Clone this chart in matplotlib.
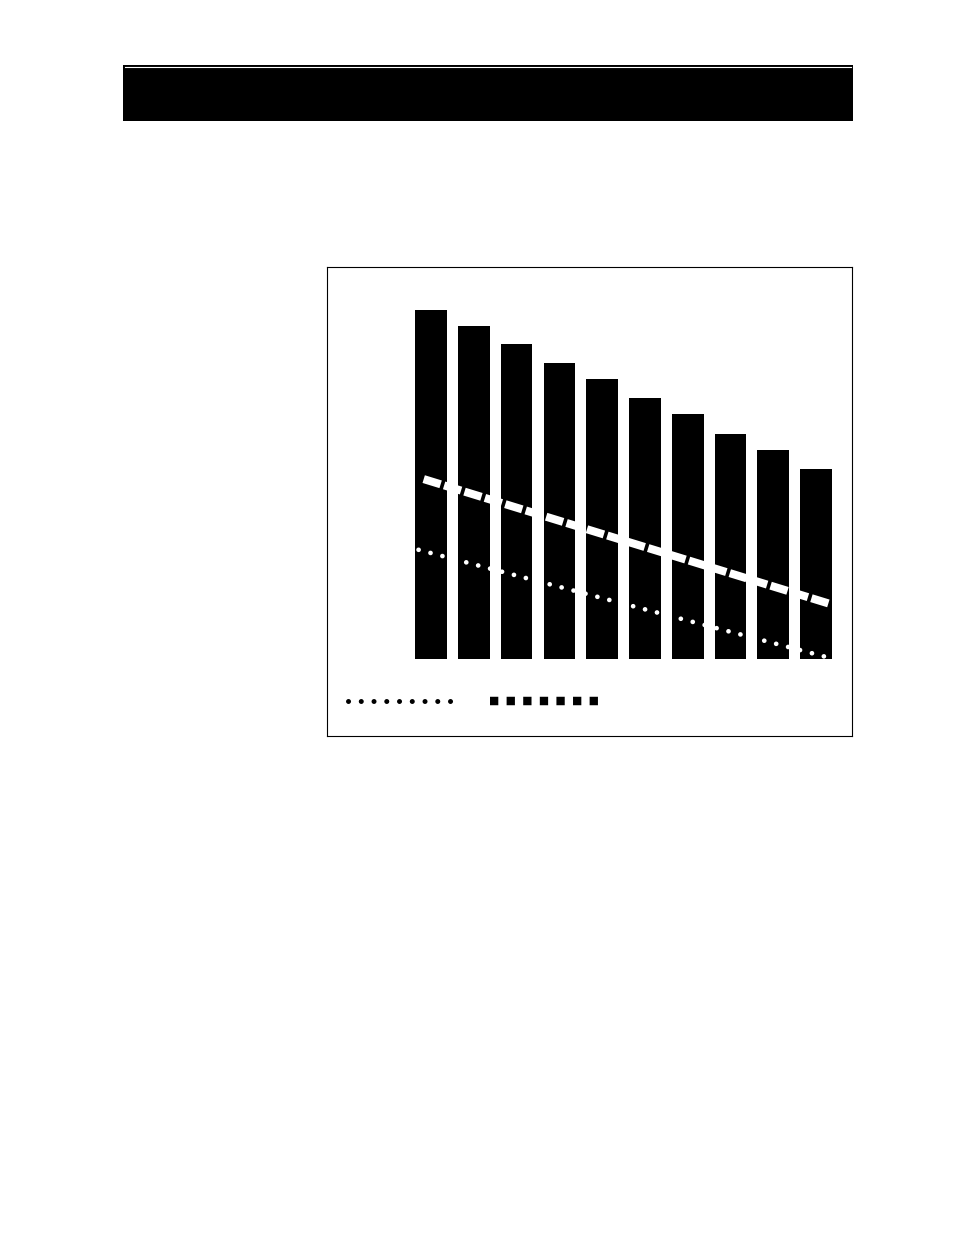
import numpy as np
import matplotlib
matplotlib.use("Agg")
from matplotlib import pyplot as plt
from matplotlib.lines import Line2D
from matplotlib.patches import Rectangle

#######################################
# chart values
#######################################

# ten categories, evenly spaced
categories = np.arange(10)

# bar heights
bar_values = [99.6, 95.1, 89.8, 84.4, 79.9, 74.4, 69.9, 64.2, 59.6, 54.2]

# dashed trend (start / end)
dash_x = [-0.17, 9.31]
dash_y = [51.3, 15.7]

# dotted trend (start / end)
dot_x = [-0.29, 9.23]
dot_y = [31.1, 0.5]

#######################################
# figure
#######################################

W, H = 954, 1235
fig = plt.figure(figsize=(W / 100, H / 100), dpi=100)
fig.patch.set_facecolor("white")

# header bar on top of the page
fig.patches.append(Rectangle((123 / W, 1 - 121 / H), 730 / W, 56 / H,
                             transform=fig.transFigure, facecolor="black",
                             edgecolor="none", zorder=0))
fig.lines.append(Line2D([125 / W, 851.5 / W], [1 - 66.5 / H, 1 - 66.5 / H],
                        transform=fig.transFigure, color="white", lw=0.8))

# chart box
ax = fig.add_axes([327 / W, 1 - 736 / H, 525 / W, 469 / H])
ax.set_xlim(-2.43, 9.84)
ax.set_ylim(-22.1, 111.9)
ax.set_xticks([])
ax.set_yticks([])
for s in ax.spines.values():
    s.set_linewidth(0.8)
    s.set_color("black")

ax.bar(categories, bar_values, width=0.74, color="black", zorder=1)

ax.plot(dash_x, dash_y, color="white", lw=5.8, dashes=(2.2, 0.45),
        dash_capstyle="butt", zorder=2)
ax.plot(dot_x, dot_y, color="white", lw=3.4, dashes=(0.01, 2.6),
        dash_capstyle="round", zorder=2)

# legend (samples only, no labels)
h_dot = Line2D([], [], color="black", lw=3.6, dashes=(0.01, 2.54),
               dash_capstyle="round")
h_dash = Line2D([], [], color="black", lw=6.1, dashes=(0.98, 0.98),
                dash_capstyle="butt")
ax.legend([h_dot, h_dash], ["", ""], ncol=2, frameon=False,
          handlelength=7.8, handletextpad=0.8, columnspacing=1.6,
          borderpad=0, borderaxespad=0, loc="center left",
          bbox_to_anchor=(21 / 525, 34 / 469))

plt.savefig("out.png", dpi=100)
